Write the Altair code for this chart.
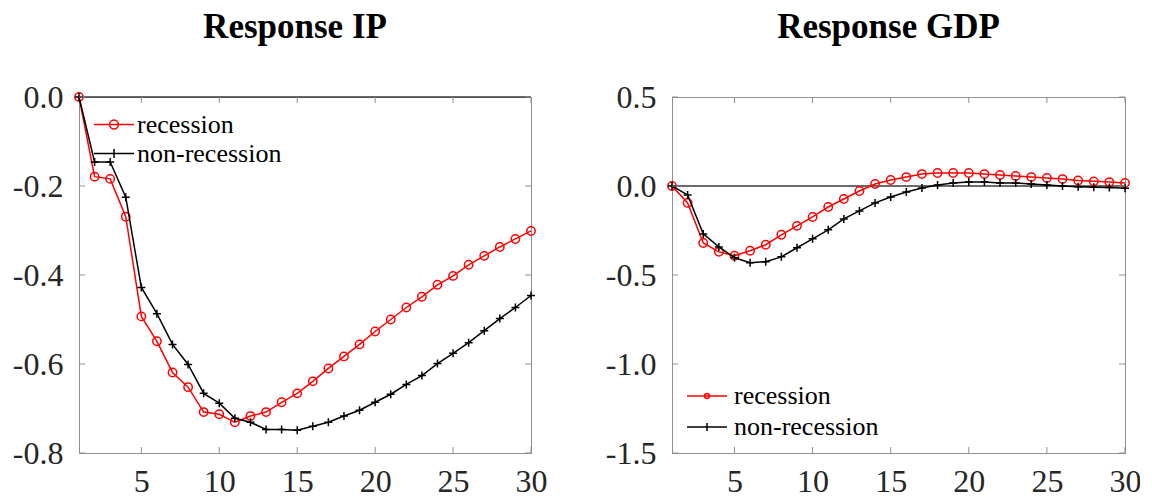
import altair as alt
import pandas as pd

# ---------------- data ----------------
horizon = list(range(1, 31))
series_names = ["recession", "non-recession"]

ip_recession = [0.000, -0.179, -0.184, -0.269, -0.493, -0.549, -0.619, -0.652, -0.708, -0.713,
                -0.731, -0.717, -0.708, -0.686, -0.666, -0.639, -0.610, -0.583, -0.556, -0.527,
                -0.500, -0.473, -0.449, -0.422, -0.402, -0.377, -0.357, -0.337, -0.319, -0.301]
ip_nonrecession = [0.000, -0.146, -0.146, -0.225, -0.428, -0.487, -0.556, -0.601, -0.666, -0.688,
                   -0.722, -0.731, -0.747, -0.747, -0.749, -0.740, -0.731, -0.717, -0.704, -0.686,
                   -0.668, -0.646, -0.626, -0.599, -0.576, -0.552, -0.525, -0.498, -0.473, -0.446]

gdp_recession = [0.000, -0.095, -0.320, -0.370, -0.392, -0.364, -0.330, -0.274, -0.224, -0.174,
                 -0.118, -0.073, -0.028, 0.011, 0.034, 0.050, 0.067, 0.073, 0.073, 0.073,
                 0.067, 0.062, 0.056, 0.050, 0.045, 0.039, 0.031, 0.026, 0.022, 0.017]
gdp_nonrecession = [0.000, -0.050, -0.269, -0.342, -0.403, -0.431, -0.425, -0.398, -0.347, -0.297,
                    -0.246, -0.185, -0.140, -0.095, -0.062, -0.034, -0.011, 0.006, 0.017, 0.022,
                    0.022, 0.017, 0.017, 0.011, 0.006, 0.000, -0.004, -0.007, -0.009, -0.012]

x_ticks = [5, 10, 15, 20, 25, 30]
ip_ticks = [-0.8, -0.6, -0.4, -0.2, 0.0]
gdp_ticks = [-1.5, -1.0, -0.5, 0.0, 0.5]

# ---------------- style ----------------
H = 356
FONT = "Liberation Serif"
AXIS_GREY = "#8f8f8f"
LABEL_COL = "#262626"
RED = "#ff0000"
BLACK = "#000000"
TICK_LEN = 6

PLUS = "M-1,0L1,0M0,-1L0,1"
LABEL_EXPR = "(datum.value < 0 ? '-' : '') + format(abs(datum.value), '.1f')"


def legend_paths(r_circle, r_plus, half=1.333):
    c = r_circle
    circ = (f"M-{half},0L{half},0M{c},0A{c},{c},0,1,1,-{c},0A{c},{c},0,1,1,{c},0")
    plus = f"M-{half},0L{half},0M0,-{r_plus}L0,{r_plus}"
    return [circ, plus]


def panel(title, rec, nonrec, ydomain, yticks, W, legend_x, legend_y, row_pad, label_off, paths):
    df = pd.DataFrame({
        "h": horizon + horizon,
        "v": rec + nonrec,
        "series": ["recession"] * len(horizon) + ["non-recession"] * len(horizon),
    })
    xs = alt.Scale(domain=[1, 30], nice=False, zero=False)
    ys = alt.Scale(domain=ydomain, nice=False, zero=False)
    x = alt.X("h:Q", scale=xs, axis=alt.Axis(values=x_ticks, title=None, labelPadding=13,
                                              labelFlush=False))
    y = alt.Y("v:Q", scale=ys, axis=alt.Axis(values=yticks, title=None, labelExpr=LABEL_EXPR,
                                              labelPadding=16, labelFlush=False))
    base = alt.Chart(df)

    zero = alt.Chart(pd.DataFrame({"v": [0.0]})).mark_rule(
        color="#3a3a3a", strokeWidth=1.6).encode(y=alt.Y("v:Q"))

    layers = [zero]
    for name, col, shape, size in [("recession", RED, "circle", 70),
                                   ("non-recession", BLACK, PLUS, 64)]:
        sub = base.transform_filter(alt.datum.series == name)
        layers.append(sub.mark_line(color=col, strokeWidth=1.5).encode(x=x, y=y))
        layers.append(sub.mark_point(color=col, shape=shape, size=size, filled=False,
                                     strokeWidth=1.5, opacity=1).encode(x=x, y=y))

    leg = alt.Legend(orient="none", legendX=legend_x, legendY=legend_y, title=None,
                     labelFont=FONT, labelFontSize=26, labelColor="#000000",
                     symbolSize=900, symbolStrokeWidth=1.5, symbolOpacity=1,
                     labelOffset=label_off, rowPadding=row_pad, padding=0)
    legend_layer = base.mark_point(opacity=0, size=900, filled=False, strokeWidth=1.5).encode(
        x=x, y=y,
        color=alt.Color("series:N", scale=alt.Scale(domain=series_names, range=[RED, BLACK]),
                        legend=leg),
        shape=alt.Shape("series:N", scale=alt.Scale(domain=series_names, range=paths),
                        legend=leg),
    )
    layers.append(legend_layer)

    xt = alt.Chart(pd.DataFrame({"h": x_ticks}))
    yt = alt.Chart(pd.DataFrame({"v": yticks}))
    tick_mark = dict(color=AXIS_GREY, strokeWidth=1)
    layers += [
        xt.mark_rule(**tick_mark).encode(x="h:Q", y=alt.value(H), y2=alt.value(H - TICK_LEN)),
        xt.mark_rule(**tick_mark).encode(x="h:Q", y=alt.value(0), y2=alt.value(TICK_LEN)),
        yt.mark_rule(**tick_mark).encode(y="v:Q", x=alt.value(0), x2=alt.value(TICK_LEN)),
        yt.mark_rule(**tick_mark).encode(y="v:Q", x=alt.value(W), x2=alt.value(W - TICK_LEN)),
    ]

    return alt.layer(*layers).properties(
        width=W, height=H,
        title=alt.TitleParams(title, font=FONT, fontSize=35, fontWeight="bold",
                              color="#000000", anchor="middle", offset=36, dx=-10),
    )


left = panel("Response IP", ip_recession, ip_nonrecession, [-0.8, 0.0], ip_ticks, 452,
             19, 11.5, 0, 7, legend_paths(0.293, 0.3))
right = panel("Response GDP", gdp_recession, gdp_nonrecession, [-1.5, 0.5], gdp_ticks, 453,
              19, 283, 2, 11, legend_paths(0.16, 0.27))

chart = alt.hconcat(left, right, spacing=141, bounds="flush").resolve_scale(
    color="independent", shape="independent"
).resolve_legend(
    color="independent", shape="independent"
).properties(
    padding={"left": 3, "top": 1, "right": -6, "bottom": -5}
).configure_view(
    stroke=AXIS_GREY, strokeWidth=1
).configure_axis(
    grid=False, domainColor=AXIS_GREY, domainWidth=1, tickSize=0,
    labelFont=FONT, labelFontSize=32, labelColor=LABEL_COL,
).configure_legend(
    labelFont=FONT,
)

chart.save("out.html", embed_options={"renderer": "svg", "actions": False})
